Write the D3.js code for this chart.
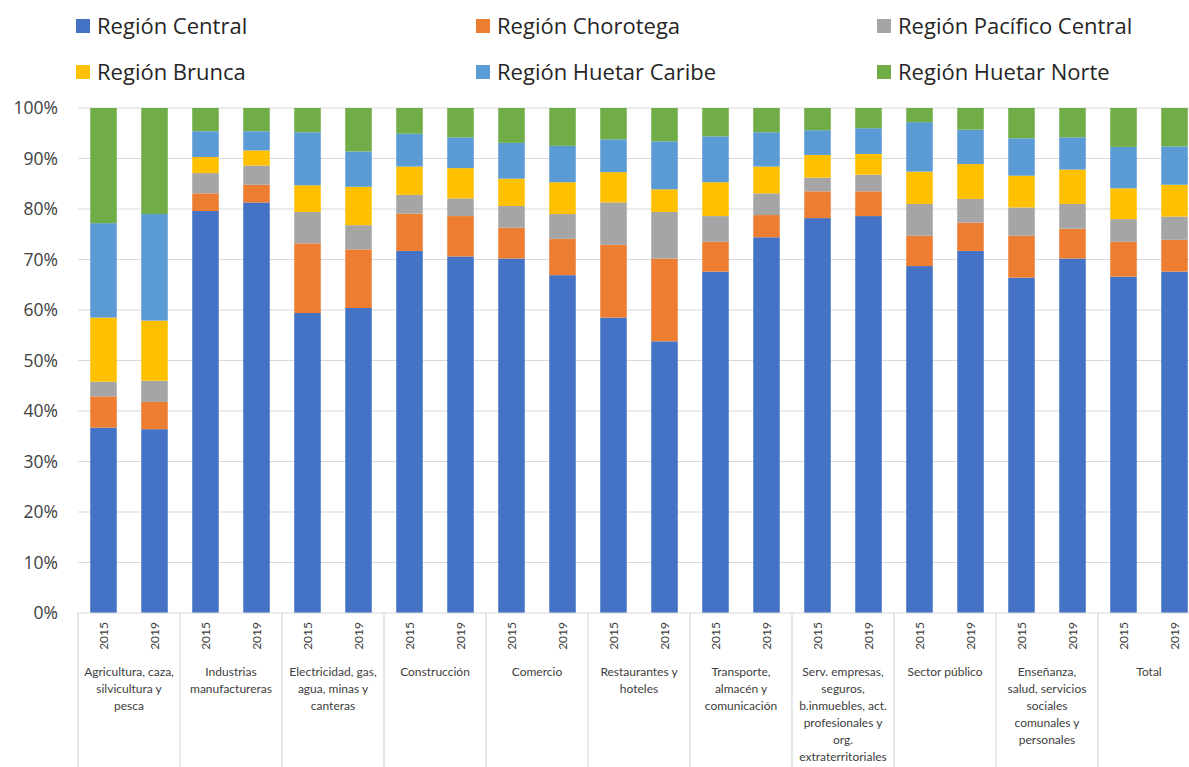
<!DOCTYPE html>
<html>
<head>
<meta charset="utf-8">
<script src="https://cdn.jsdelivr.net/npm/d3@7"></script>
<style>
  body { margin: 0; background: #fff; }
  svg { display: block; font-family: Lato, "Open Sans", sans-serif; }
</style>
</head>
<body>
<div id="chart"></div>
<script>
// categorías (líneas de la etiqueta) y años
const categories = [
  ['Agricultura, caza,', 'silvicultura y', 'pesca'],
  ['Industrias', 'manufactureras'],
  ['Electricidad, gas,', 'agua, minas y', 'canteras'],
  ['Construcción'],
  ['Comercio'],
  ['Restaurantes y', 'hoteles'],
  ['Transporte,', 'almacén y', 'comunicación'],
  ['Serv. empresas,', 'seguros,', 'b.inmuebles, act.', 'profesionales y', 'org.', 'extraterritoriales'],
  ['Sector público'],
  ['Enseñanza,', 'salud, servicios', 'sociales', 'comunales y', 'personales'],
  ['Total']
];
const years = ['2015', '2019'];

const seriesNames = ['Región Central', 'Región Chorotega', 'Región Pacífico Central',
  'Región Brunca', 'Región Huetar Caribe', 'Región Huetar Norte'];
const colors = ['#4472C4', '#ED7D31', '#A5A5A5', '#FFC000', '#5B9BD5', '#70AD47'];

// porcentajes, en orden: cat1-2015, cat1-2019, cat2-2015, ...
const central     = [36.7, 36.4, 79.6, 81.3, 59.4, 60.4, 71.7, 70.6, 70.2, 66.9, 58.5, 53.8, 67.6, 74.4, 78.2, 78.6, 68.7, 71.7, 66.4, 70.2, 66.6, 67.6];
const chorotega   = [6.2, 5.4, 3.5, 3.5, 13.8, 11.6, 7.4, 8.0, 6.1, 7.2, 14.4, 16.4, 5.9, 4.4, 5.3, 4.9, 6.0, 5.6, 8.3, 5.9, 6.9, 6.3];
const pacifico    = [2.9, 4.2, 4.0, 3.8, 6.2, 4.8, 3.7, 3.5, 4.3, 4.9, 8.4, 9.2, 5.1, 4.3, 2.7, 3.3, 6.3, 4.7, 5.6, 4.9, 4.5, 4.6];
const brunca      = [12.7, 11.9, 3.2, 3.0, 5.3, 7.6, 5.6, 6.0, 5.4, 6.3, 6.0, 4.5, 6.7, 5.3, 4.5, 4.1, 6.4, 6.9, 6.3, 6.8, 6.1, 6.3];
const huetarCar   = [18.7, 21.1, 5.1, 3.8, 10.5, 7.0, 6.5, 6.1, 7.1, 7.2, 6.5, 9.5, 9.1, 6.8, 4.9, 5.1, 9.8, 6.8, 7.4, 6.4, 8.2, 7.6];
const huetarNorte = [22.8, 21.0, 4.6, 4.6, 4.8, 8.6, 5.1, 5.8, 6.9, 7.5, 6.2, 6.6, 5.6, 4.8, 4.4, 4.0, 2.8, 4.3, 6.0, 5.8, 7.7, 7.6];

const yTicks = [0, 10, 20, 30, 40, 50, 60, 70, 80, 90, 100];

const seriesValues = [central, chorotega, pacifico, brunca, huetarCar, huetarNorte];
const rows = [];
categories.forEach((c, ci) => years.forEach((yr, yi) => {
  const i = ci * 2 + yi;
  const r = { cat: ci, year: yr };
  seriesNames.forEach((s, si) => { r[s] = seriesValues[si][i]; });
  rows.push(r);
}));

const W = 1189, H = 767;
const plotLeft = 78, plotRight = 1200, plotTop = 108, plotBottom = 613;

const svg = d3.select('#chart').append('svg').attr('width', W).attr('height', H);

const x0 = d3.scaleBand().domain(d3.range(categories.length)).range([plotLeft, plotRight]);
const x1 = d3.scaleBand().domain(years).range([0, x0.bandwidth()]).paddingInner(0.48).paddingOuter(0.24);
const y = d3.scaleLinear().domain([0, 100]).range([plotBottom, plotTop]);

// rejilla
svg.append('g')
  .selectAll('line')
  .data(yTicks.filter(d => d > 0))
  .enter()
  .append('line')
  .attr('x1', plotLeft).attr('x2', W)
  .attr('y1', d => y(d)).attr('y2', d => y(d))
  .attr('stroke', '#d9d9d9').attr('stroke-width', 1.2);

// etiquetas eje y
svg.append('g')
  .selectAll('text')
  .data(yTicks)
  .enter()
  .append('text')
  .attr('x', 58).attr('y', d => y(d))
  .attr('dy', '0.35em')
  .attr('text-anchor', 'end')
  .attr('font-family', '"Open Sans", sans-serif')
  .attr('font-size', 17.5).attr('fill', '#404040')
  .text(d => d + '%');

// barras apiladas
const stack = d3.stack().keys(seriesNames);
const layers = stack(rows);
svg.append('g')
  .selectAll('g')
  .data(layers)
  .enter()
  .append('g')
  .attr('fill', (d, i) => colors[i])
  .selectAll('rect')
  .data(d => d)
  .enter()
  .append('rect')
  .attr('x', d => x0(d.data.cat) + x1(d.data.year))
  .attr('width', x1.bandwidth())
  .attr('y', d => y(d[1]))
  .attr('height', d => y(d[0]) - y(d[1]));

// eje x
svg.append('line')
  .attr('x1', plotLeft).attr('x2', W)
  .attr('y1', plotBottom).attr('y2', plotBottom)
  .attr('stroke', '#d9d9d9').attr('stroke-width', 1.2);

svg.append('g')
  .selectAll('line')
  .data(d3.range(categories.length + 1))
  .enter()
  .append('line')
  .attr('x1', d => plotLeft + d * x0.step()).attr('x2', d => plotLeft + d * x0.step())
  .attr('y1', plotBottom).attr('y2', H)
  .attr('stroke', '#d9d9d9').attr('stroke-width', 1.2);

// años
svg.append('g')
  .selectAll('text')
  .data(rows)
  .enter()
  .append('text')
  .attr('transform', d => `translate(${x0(d.cat) + x1(d.year) + x1.bandwidth() / 2},${plotBottom + 9}) rotate(-90)`)
  .attr('text-anchor', 'end')
  .attr('dy', '0.35em')
  .attr('font-size', 12).attr('fill', '#404040')
  .text(d => d.year);

// categorías
const catG = svg.append('g')
  .selectAll('text')
  .data(categories)
  .enter()
  .append('text')
  .attr('x', (d, i) => x0(i) + x0.bandwidth() / 2)
  .attr('y', 676)
  .attr('text-anchor', 'middle')
  .attr('font-size', 12).attr('fill', '#404040');
catG.selectAll('tspan')
  .data(d => d)
  .enter()
  .append('tspan')
  .attr('x', function () { return d3.select(this.parentNode).attr('x'); })
  .attr('dy', (d, i) => i === 0 ? 0 : 17)
  .text(d => d);

// leyenda
const legendX = [76, 476, 877];
const legend = svg.append('g')
  .selectAll('g')
  .data(seriesNames)
  .enter()
  .append('g')
  .attr('transform', (d, i) => `translate(${legendX[i % 3]},${i < 3 ? 26 : 72})`);
legend.append('rect')
  .attr('x', 0).attr('y', -7).attr('width', 14).attr('height', 14)
  .attr('fill', (d, i) => colors[i]);
legend.append('text')
  .attr('x', 21).attr('dy', '0.35em')
  .attr('font-family', '"Open Sans", sans-serif')
  .attr('font-size', 22).attr('fill', '#262626')
  .text(d => d);
</script>
</body>
</html>
